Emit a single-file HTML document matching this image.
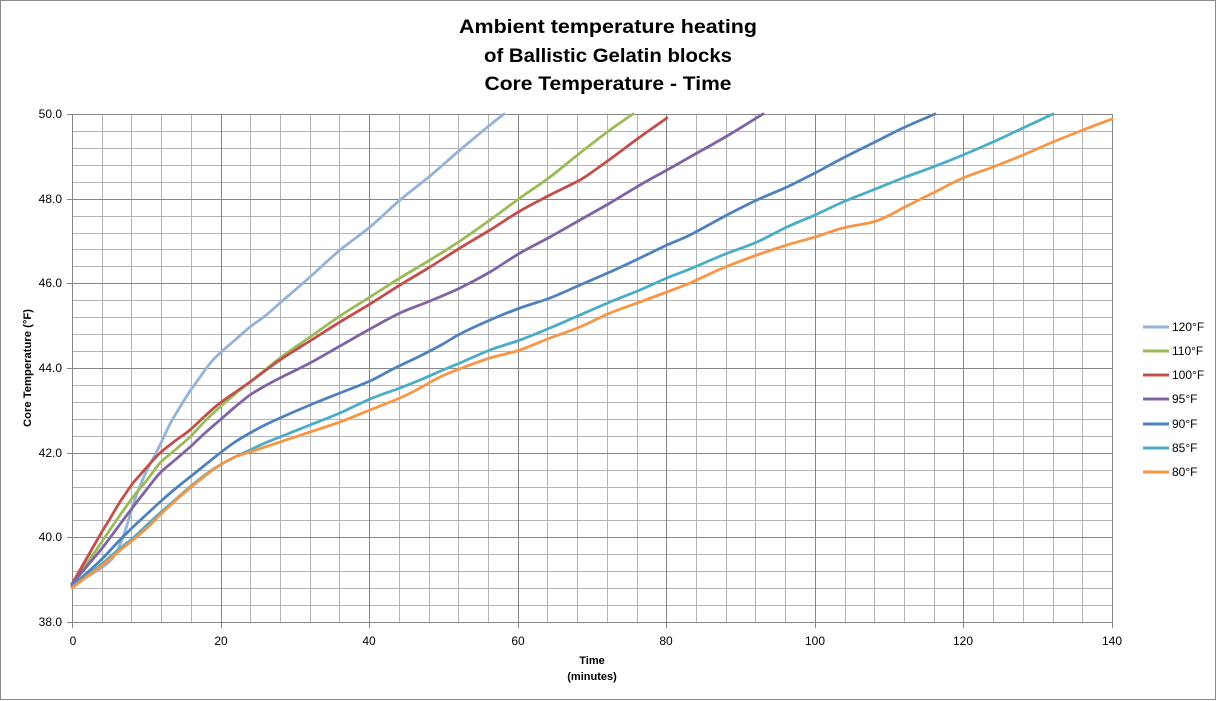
<!DOCTYPE html>
<html>
<head>
<meta charset="utf-8">
<style>
  html,body{margin:0;padding:0;background:#fff;}
  svg{display:block;}
  text{font-family:"Liberation Sans",Arial,sans-serif;fill:#000;}
</style>
</head>
<body>
<svg id="chart" width="1217" height="701" viewBox="0 0 1217 701" xmlns="http://www.w3.org/2000/svg">
  <rect x="0" y="0" width="1217" height="701" fill="#fff"/>
  <!-- outer chart border -->
  <rect x="0.5" y="0.5" width="1215" height="699" fill="none" stroke="#8a8a8a" stroke-width="1"/>

  <!-- title -->
  <text x="608" y="33" font-size="19" font-weight="bold" text-anchor="middle" textLength="298" lengthAdjust="spacingAndGlyphs">Ambient temperature heating</text>
  <text x="608" y="62" font-size="19" font-weight="bold" text-anchor="middle" textLength="248" lengthAdjust="spacingAndGlyphs">of Ballistic Gelatin blocks</text>
  <text x="608" y="90" font-size="19" font-weight="bold" text-anchor="middle" textLength="247" lengthAdjust="spacingAndGlyphs">Core Temperature - Time</text>

  <!-- minor gridlines -->
  <path fill="none" stroke="#b4b4b4" stroke-width="1" d="
    M102.5 114V622 M131.5 114V622 M161.5 114V622 M191.5 114V622
    M250.5 114V622 M280.5 114V622 M310.5 114V622 M339.5 114V622
    M399.5 114V622 M429.5 114V622 M458.5 114V622 M488.5 114V622
    M547.5 114V622 M577.5 114V622 M607.5 114V622 M637.5 114V622
    M696.5 114V622 M726.5 114V622 M755.5 114V622 M785.5 114V622
    M845.5 114V622 M874.5 114V622 M904.5 114V622 M934.5 114V622
    M993.5 114V622 M1023.5 114V622 M1053.5 114V622 M1082.5 114V622
    M72 131.5H1112 M72 148.5H1112 M72 165.5H1112 M72 182.5H1112
    M72 216.5H1112 M72 233.5H1112 M72 249.5H1112 M72 266.5H1112
    M72 300.5H1112 M72 317.5H1112 M72 334.5H1112 M72 351.5H1112
    M72 385.5H1112 M72 402.5H1112 M72 419.5H1112 M72 436.5H1112
    M72 470.5H1112 M72 487.5H1112 M72 503.5H1112 M72 520.5H1112
    M72 554.5H1112 M72 571.5H1112 M72 588.5H1112 M72 605.5H1112"/>
  <!-- major gridlines -->
  <path fill="none" stroke="#868686" stroke-width="1" d="
    M221.5 114V622 M369.5 114V622 M518.5 114V622 M666.5 114V622
    M815.5 114V622 M963.5 114V622 M1112.5 114V622
    M72 114.5H1113 M72 199.5H1113 M72 283.5H1113 M72 368.5H1113
    M72 453.5H1113 M72 537.5H1113"/>
  <!-- axes + ticks -->
  <path fill="none" stroke="#868686" stroke-width="1" d="
    M72.5 114V623 M67 622.5H1113
    M67 114.5H72 M67 199.5H72 M67 283.5H72 M67 368.5H72 M67 453.5H72 M67 537.5H72
    M72.5 622V628 M221.5 622V628 M369.5 622V628 M518.5 622V628 M666.5 622V628 M815.5 622V628 M963.5 622V628 M1112.5 622V628"/>

  <!-- y tick labels -->
  <g font-size="12" text-anchor="end">
    <text x="62" y="118">50.0</text>
    <text x="62" y="203">48.0</text>
    <text x="62" y="287">46.0</text>
    <text x="62" y="372">44.0</text>
    <text x="62" y="457">42.0</text>
    <text x="62" y="541">40.0</text>
    <text x="62" y="626">38.0</text>
  </g>
  <!-- x tick labels -->
  <g font-size="12" text-anchor="middle">
    <text x="73" y="645">0</text>
    <text x="221" y="645">20</text>
    <text x="369" y="645">40</text>
    <text x="518" y="645">60</text>
    <text x="666" y="645">80</text>
    <text x="815" y="645">100</text>
    <text x="963" y="645">120</text>
    <text x="1112" y="645">140</text>
  </g>

  <!-- axis titles -->
  <text x="592" y="664" font-size="11" font-weight="bold" text-anchor="middle">Time</text>
  <text x="592" y="680" font-size="11" font-weight="bold" text-anchor="middle">(minutes)</text>
  <text transform="translate(31,368) rotate(-90)" font-size="11" font-weight="bold" text-anchor="middle" textLength="118" lengthAdjust="spacingAndGlyphs">Core Temperature (°F)</text>

  <!-- series -->
  <g id="series" fill="none" stroke-width="2.8" stroke-linejoin="round" stroke-linecap="round">
    <polyline stroke="#95B3D7" points="72,585 85,578 95,572 104,566 112,559 118,549 123,537 128,522 134,502 140,486 147,470 155,455 161,443 170,424 180,407 190,391 198,380 205,370 212,361 220,353 235,340 250,327 265,316 280,303 310,277 340,250 370,227 400,200 430,176 460,150 490,125 504,114"/>
    <polyline stroke="#9BBB59" points="72,584 88,562 103,540 118,518 133,497 147,480 160,463 175,450 190,437 205,421 220,407 235,394 250,382 265,370 280,358 310,337 340,316 370,297 400,278 430,260 460,241 490,220 520,198 550,177 580,153 610,130 633,114"/>
    <polyline stroke="#C0504D" points="72,584 80,570 88,556 96,542 103,530 111,517 118,505 126,493 133,483 140,475 147,467 160,453 175,441 190,430 205,416 220,403 250,382 280,360 310,341 340,322 370,304 400,285 430,267 460,248 490,230 520,211 550,195 580,180 595,170 613,157 640,137 667,118"/>
    <polyline stroke="#8064A2" points="72,584 88,565 103,547 118,527 133,507 147,489 160,473 175,460 190,447 205,433 220,420 235,407 250,395 265,386 280,378 310,363 340,346 370,329 400,313 430,301 460,288 490,272 520,253 550,237 580,220 610,203 640,185 667,170 690,157 727,136 763,114"/>
    <polyline stroke="#4F81BD" points="72,586 88,572 103,558 118,542 133,527 147,514 160,502 175,489 190,477 205,465 220,453 235,442 250,433 265,425 280,418 310,405 340,393 370,381 393,369 420,356 443,344 460,334 490,320 520,308 550,298 580,285 610,272 640,258 667,245 690,235 727,215 757,200 787,187 815,173 843,158 873,143 903,128 935,114"/>
    <polyline stroke="#4BACC6" points="72,587 88,575 103,563 118,550 133,538 147,525 160,513 175,500 190,487 205,475 220,465 235,457 250,450 265,443 280,437 310,425 340,413 370,399 400,388 420,380 443,370 460,363 490,350 520,340 550,328 580,315 610,302 640,290 667,278 690,269 723,255 757,242 787,227 815,215 843,202 873,190 903,178 933,167 963,155 993,142 1023,128 1053,114"/>
    <polyline stroke="#F79646" points="72,588 88,576 103,565 118,552 133,540 147,528 160,515 175,501 190,488 205,476 220,465 235,457 250,452 265,447 280,442 310,432 340,422 370,410 400,398 420,388 440,377 462,368 490,358 520,350 550,338 580,327 610,313 640,302 667,292 690,283 723,268 757,255 787,245 815,237 843,228 873,222 890,215 903,208 933,193 963,178 993,167 1023,155 1053,142 1083,130 1112,119"/>
  </g>

  <!-- legend -->
  <g stroke-width="3" fill="none">
    <line x1="1143" y1="327" x2="1169" y2="327" stroke="#95B3D7"/>
    <line x1="1143" y1="351" x2="1169" y2="351" stroke="#9BBB59"/>
    <line x1="1143" y1="375" x2="1169" y2="375" stroke="#C0504D"/>
    <line x1="1143" y1="399" x2="1169" y2="399" stroke="#8064A2"/>
    <line x1="1143" y1="424" x2="1169" y2="424" stroke="#4F81BD"/>
    <line x1="1143" y1="448" x2="1169" y2="448" stroke="#4BACC6"/>
    <line x1="1143" y1="472" x2="1169" y2="472" stroke="#F79646"/>
  </g>
  <g font-size="12">
    <text x="1172" y="331">120°F</text>
    <text x="1172" y="355">110°F</text>
    <text x="1172" y="379">100°F</text>
    <text x="1172" y="403">95°F</text>
    <text x="1172" y="428">90°F</text>
    <text x="1172" y="452">85°F</text>
    <text x="1172" y="476">80°F</text>
  </g>
</svg>
<script>
(function(){
  try{
    var ns="http://www.w3.org/2000/svg";
    var g=document.getElementById("series");
    var pls=g.getElementsByTagName("polyline");
    var arr=[];
    for(var i=0;i<pls.length;i++)arr.push(pls[i]);
    arr.forEach(function(pl){
      var pts=pl.getAttribute("points").trim().split(/\s+/).map(function(s){var a=s.split(",");return [parseFloat(a[0]),parseFloat(a[1])];});
      var d="M"+pts[0][0]+","+pts[0][1];
      for(var k=0;k<pts.length-1;k++){
        var p0=pts[k>0?k-1:k],p1=pts[k],p2=pts[k+1],p3=pts[k+2<pts.length?k+2:k+1];
        var c1x=p1[0]+(p2[0]-p0[0])/6,c1y=p1[1]+(p2[1]-p0[1])/6;
        var c2x=p2[0]-(p3[0]-p1[0])/6,c2y=p2[1]-(p3[1]-p1[1])/6;
        d+=" C"+c1x.toFixed(2)+","+c1y.toFixed(2)+" "+c2x.toFixed(2)+","+c2y.toFixed(2)+" "+p2[0]+","+p2[1];
      }
      var p=document.createElementNS(ns,"path");
      p.setAttribute("d",d);
      p.setAttribute("stroke",pl.getAttribute("stroke"));
      g.replaceChild(p,pl);
    });
  }catch(e){}
})();
</script>
</body>
</html>
